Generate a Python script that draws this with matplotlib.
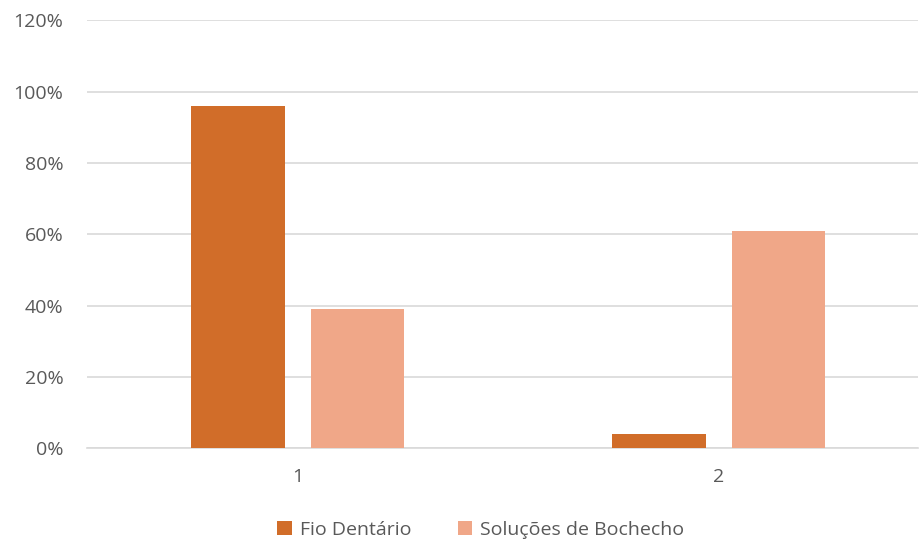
import numpy as np
import matplotlib
matplotlib.use("Agg")
import matplotlib.pyplot as plt
from matplotlib.ticker import PercentFormatter

categories = ["1", "2"]
series_names = ["Fio Dentário", "Soluções de Bochecho"]
fio = [96, 4]
solucoes = [39, 61]

DARK = "#D16D29"
LIGHT = "#F0A788"
TXT = "#595959"
GRID = "#D9D9D9"

plt.rcParams["font.family"] = ["Open Sans", "DejaVu Sans"]

fig = plt.figure(figsize=(9.21, 5.46), dpi=100, facecolor="white")
W, H = 921, 546
ax = fig.add_axes([87 / W, (H - 448.3) / H, (918 - 87) / W, (448.3 - 20.3) / H])

x = np.arange(len(categories))
bw = 0.222
ax.bar(x - 0.142, fio, bw, color=DARK, label=series_names[0], zorder=3)
ax.bar(x + 0.142, solucoes, bw, color=LIGHT, label=series_names[1], zorder=3)

ax.set_ylim(0, 120)
ax.set_xlim(-0.501, 1.474)
ax.set_yticks(np.arange(0, 121, 20))
ax.yaxis.set_major_formatter(PercentFormatter(decimals=0))
ax.set_xticks(x)
ax.set_xticklabels(categories)
ax.grid(axis="y", color=GRID, lw=1.2, zorder=0)
for s in ["top", "right", "left"]:
    ax.spines[s].set_visible(False)
ax.spines["bottom"].set_color(GRID)
ax.spines["bottom"].set_linewidth(1.2)
ax.tick_params(length=0, labelsize=14, colors=TXT)
ax.tick_params(axis="y", pad=17)
ax.tick_params(axis="x", pad=14)

fig.legend(loc="center", bbox_to_anchor=(0.522, 0.03), ncol=2, frameon=False,
           fontsize=14, labelcolor=TXT, handlelength=0.75, handleheight=0.75,
           handletextpad=0.4, columnspacing=2.4)

fig.savefig("out.png", dpi=100)
